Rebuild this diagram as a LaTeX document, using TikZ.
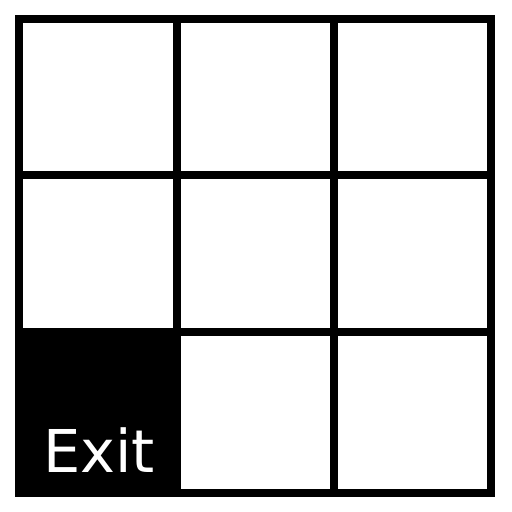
\documentclass[tikz,border=0pt]{standalone}
\usepackage{fontspec}
\setmainfont{DejaVu Sans}
\begin{document}
\begin{tikzpicture}[x=1pt,y=-1pt,
  gridline/.style={line width=8.5pt, draw=black},
  exitlabel/.style={text=white, anchor=base west, inner sep=0pt, font=\fontsize{59}{62}\selectfont}]
\useasboundingbox (0,0) rectangle (512,512);
\fill[white] (0,0) rectangle (512,512);
\fill[black] (15,328) rectangle (180,497);
\draw[gridline] (19,19) rectangle (491,493);
\draw[gridline] (177,19) -- (177,493);
\draw[gridline] (334,19) -- (334,493);
\draw[gridline] (19,175) -- (491,175);
\draw[gridline] (19,332) -- (491,332);
\node[exitlabel] (exit) at (43,472) {Exit};
\end{tikzpicture}
\end{document}
